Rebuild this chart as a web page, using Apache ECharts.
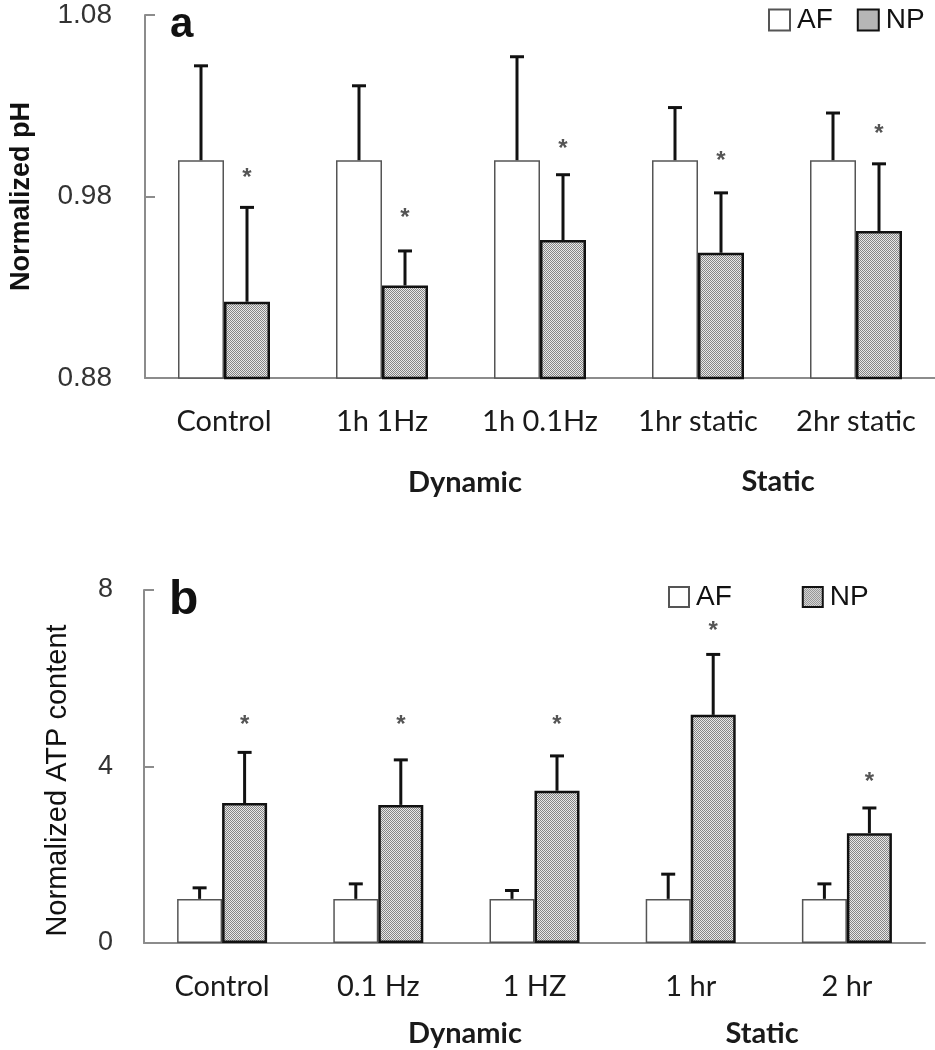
<!DOCTYPE html>
<html><head><meta charset="utf-8">
<script src="https://cdn.jsdelivr.net/npm/echarts@6/dist/echarts.min.js"></script>
<style>html,body{margin:0;padding:0;background:#fff}#c{width:935px;height:1050px}</style>
</head><body><div id="c"></div>
<script>
// ---------- Panel a (Normalized pH) ----------
const catsA = ['Control', '1h 1Hz', '1h 0.1Hz', '1hr static', '2hr static'];
const afA = [1.0, 1.0, 1.0, 1.0, 1.0];
const afErrA = [0.052, 0.041, 0.057, 0.029, 0.026];
const npA = [0.922, 0.931, 0.956, 0.949, 0.961];
const npErrA = [0.052, 0.019, 0.036, 0.033, 0.037];
const starA = [0.994, 0.972, 1.010, 1.003, 1.018];
const yTicksA = [0.88, 0.98, 1.08];

// ---------- Panel b (Normalized ATP content) ----------
const catsB = ['Control', '0.1 Hz', '1 HZ', '1 hr', '2 hr'];
const afB = [1, 1, 1, 1, 1];
const afErrB = [0.25, 0.34, 0.19, 0.56, 0.34];
const npB = [3.17, 3.13, 3.45, 5.17, 2.49];
const npErrB = [1.15, 1.02, 0.79, 1.37, 0.57];
const starB = [5.09, 5.09, 5.09, 7.21, 3.81];
const yTicksB = [0, 4, 8];

// hatch pattern for NP
const pc = document.createElement('canvas'); pc.width = 4; pc.height = 4;
const g = pc.getContext('2d');
g.fillStyle = '#e8e8e8'; g.fillRect(0, 0, 4, 4);
g.fillStyle = '#858585';
for (let y = 0; y < 4; y++) for (let x = 0; x < 4; x++) if ((x + y) % 2 === 0) g.fillRect(x, y, 1, 1);
const npFill = { image: pc, repeat: 'repeat' };

const AF_STYLE = { color: '#ffffff', borderColor: '#555', borderWidth: 1.5 };
const NP_STYLE = { color: npFill, borderColor: '#111', borderWidth: 2.5 };
const BW_A = 46, BW_B = 45;

function errSeries(name, vals, errs, side, bw, xi, yi) {
  return {
    type: 'custom', name: name + '_err', xAxisIndex: xi, yAxisIndex: yi, z: 5, silent: true,
    data: vals.map((v, i) => [i, v, errs[i]]),
    renderItem: function (params, api) {
      const b = api.coord([api.value(0), api.value(1)]);
      const t = api.coord([api.value(0), api.value(1) + api.value(2)]);
      const x = b[0] + side * bw / 2;
      const st = { stroke: '#111', lineWidth: 3 };
      return { type: 'group', children: [
        { type: 'line', shape: { x1: x, y1: b[1], x2: x, y2: t[1] }, style: st },
        { type: 'line', shape: { x1: x - 7, y1: t[1], x2: x + 7, y2: t[1] }, style: st }
      ]};
    }
  };
}
function starSeries(vals, side, bw, xi, yi) {
  return {
    type: 'custom', xAxisIndex: xi, yAxisIndex: yi, z: 6, silent: true,
    data: vals.map((v, i) => [i, v]),
    renderItem: function (params, api) {
      const p = api.coord([api.value(0), api.value(1)]);
      return { type: 'text', x: p[0] + side * bw / 2, y: p[1] + 7,
        style: { text: '*', fill: '#555', font: 'bold 24px "Liberation Sans"', align: 'center', verticalAlign: 'middle' } };
    }
  };
}

const yLabelA = { fontFamily: 'Liberation Sans', fontSize: 28, color: '#333', margin: 33,
  formatter: v => v.toFixed(2) };
const yLabelB = { fontFamily: 'Liberation Sans', fontSize: 27, color: '#333', margin: 31 };
const axLine = { show: true, lineStyle: { color: '#8c8c8c', width: 2 } };
const xLabel = { fontFamily: 'Lato', fontSize: 29, color: '#1a1a1a', interval: 0, margin: 29 };

const chart = echarts.init(document.getElementById('c'), null, { renderer: 'canvas' });
chart.setOption({
  animation: false,
  backgroundColor: '#fff',
  grid: [
    { left: 143, top: 15, width: 800, height: 363 },
    { left: 144, top: 590, width: 781, height: 353 }
  ],
  legend: [
    { data: ['AF', 'NP'], left: 768, top: 6, itemWidth: 21, itemHeight: 21, itemGap: 24, padding: 0, icon: 'rect',
      textStyle: { fontFamily: 'Liberation Sans', fontSize: 28, color: '#111', padding: [0, 0, 0, 2] } },
    { data: ['AF', 'NP'], left: 668, top: 583, itemWidth: 20, itemHeight: 20, itemGap: 70, padding: 0, icon: 'rect',
      textStyle: { fontFamily: 'Liberation Sans', fontSize: 28, color: '#111', padding: [0, 0, 0, 2] } }
  ],
  xAxis: [
    { type: 'category', gridIndex: 0, data: catsA, axisTick: { show: false }, axisLine: axLine, axisLabel: xLabel },
    { type: 'category', gridIndex: 1, data: catsB, axisTick: { show: false }, axisLine: axLine, axisLabel: xLabel }
  ],
  yAxis: [
    { type: 'value', gridIndex: 0, min: yTicksA[0], max: yTicksA[yTicksA.length - 1], interval: yTicksA[1] - yTicksA[0],
      splitLine: { show: false }, axisLine: axLine,
      axisTick: { show: true, inside: true, length: 10, lineStyle: { color: '#8c8c8c', width: 2 } },
      axisLabel: yLabelA,
      name: 'Normalized pH', nameLocation: 'middle', nameGap: 110, nameRotate: 90,
      nameTextStyle: { fontFamily: 'Liberation Sans', fontWeight: 'bold', fontSize: 27, color: '#111' } },
    { type: 'value', gridIndex: 1, min: yTicksB[0], max: yTicksB[yTicksB.length - 1], interval: yTicksB[1] - yTicksB[0],
      splitLine: { show: false }, axisLine: axLine,
      axisTick: { show: true, inside: true, length: 10, lineStyle: { color: '#8c8c8c', width: 2 } },
      axisLabel: yLabelB,
      name: 'Normalized ATP content', nameLocation: 'middle', nameGap: 72, nameRotate: 90,
      nameTextStyle: { fontFamily: 'Liberation Sans', fontSize: 29, color: '#111', padding: [0, 28, 0, 0] } }
  ],
  graphic: [
    { type: 'text', left: 170, top: 4, style: { text: 'a', font: 'bold 42px "Liberation Sans"', fill: '#111' } },
    { type: 'text', left: 169, top: 577, style: { text: 'b', font: 'bold 48px "Liberation Sans"', fill: '#111' } },
    { type: 'text', x: 465, y: 483, style: { text: 'Dynamic', font: 'bold 29px Lato', fill: '#1a1a1a', align: 'center', verticalAlign: 'middle' } },
    { type: 'text', x: 778, y: 482, style: { text: 'Static', font: 'bold 29px Lato', fill: '#1a1a1a', align: 'center', verticalAlign: 'middle' } },
    { type: 'text', x: 465, y: 1034, style: { text: 'Dynamic', font: 'bold 29px Lato', fill: '#1a1a1a', align: 'center', verticalAlign: 'middle' } },
    { type: 'text', x: 762, y: 1034, style: { text: 'Static', font: 'bold 29px Lato', fill: '#1a1a1a', align: 'center', verticalAlign: 'middle' } }
  ],
  series: [
    { type: 'bar', name: 'AF', xAxisIndex: 0, yAxisIndex: 0, data: afA, barWidth: BW_A, barGap: '0%', itemStyle: AF_STYLE },
    { type: 'bar', name: 'NP', xAxisIndex: 0, yAxisIndex: 0, data: npA, barWidth: BW_A, barGap: '0%', itemStyle: NP_STYLE },
    { type: 'bar', name: 'AF', xAxisIndex: 1, yAxisIndex: 1, data: afB, barWidth: BW_B, barGap: '0%', itemStyle: AF_STYLE },
    { type: 'bar', name: 'NP', xAxisIndex: 1, yAxisIndex: 1, data: npB, barWidth: BW_B, barGap: '0%', itemStyle: NP_STYLE },
    errSeries('AF', afA, afErrA, -1, BW_A, 0, 0),
    errSeries('NP', npA, npErrA, 1, BW_A, 0, 0),
    errSeries('AF', afB, afErrB, -1, BW_B, 1, 1),
    errSeries('NP', npB, npErrB, 1, BW_B, 1, 1),
    starSeries(starA, 1, BW_A, 0, 0),
    starSeries(starB, 1, BW_B, 1, 1)
  ]
});
</script></body></html>
